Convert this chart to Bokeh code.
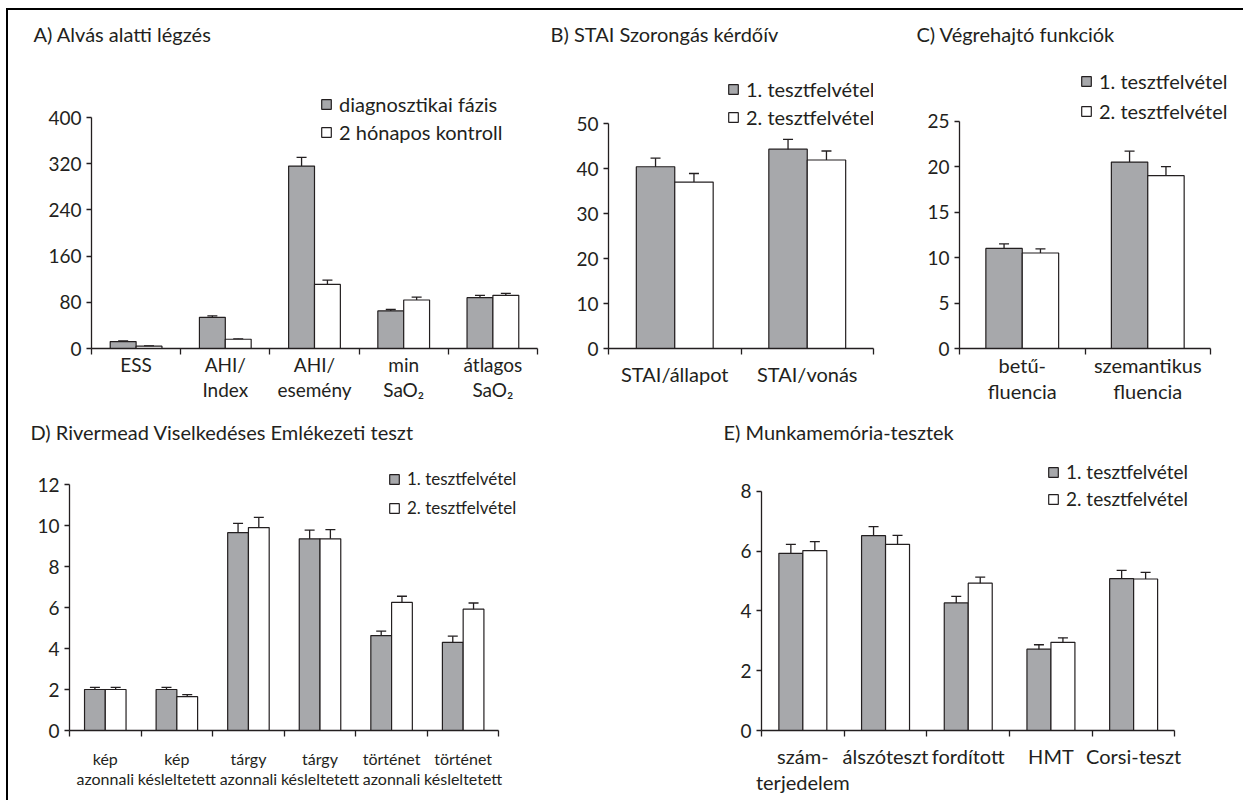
import numpy as np
from bokeh.plotting import figure
from bokeh.models import (ColumnDataSource, FixedTicker, Whisker, TeeHead,
                          Legend, LegendItem, Range1d)
from bokeh.layouts import row, column
from bokeh.embed import file_html
from bokeh.resources import INLINE

FONT = "Lato"
GRAY = "#a7a8ab"
INK = "#231f20"

# ---------------- data ----------------
series_a = ["diagnosztikai fázis", "2 hónapos kontroll"]
series_t = ["1. tesztfelvétel", "2. tesztfelvétel"]

a_title = "A) Alvás alatti légzés"
a_cats = ["ESS", "AHI/\nIndex", "AHI/\nesemény", "min\nSaO₂", "átlagos\nSaO₂"]
a_v1 = [12, 54, 316, 65, 88]
a_e1 = [1, 2.5, 15, 2.5, 4]
a_v2 = [4, 16, 111, 84, 92]
a_e2 = [0.5, 0.8, 7.5, 5, 3.5]
a_yticks = [0, 80, 160, 240, 320, 400]

b_title = "B) STAI Szorongás kérdőív"
b_cats = ["STAI/állapot", "STAI/vonás"]
b_v1 = [40.4, 44.3]
b_e1 = [1.9, 2.2]
b_v2 = [37.0, 41.9]
b_e2 = [1.9, 2.0]
b_yticks = [0, 10, 20, 30, 40, 50]

c_title = "C) Végrehajtó funkciók"
c_cats = ["betű-\nfluencia", "szemantikus\nfluencia"]
c_v1 = [11.0, 20.5]
c_e1 = [0.5, 1.2]
c_v2 = [10.5, 19.0]
c_e2 = [0.45, 1.0]
c_yticks = [0, 5, 10, 15, 20, 25]

d_title = "D) Rivermead Viselkedéses Emlékezeti teszt"
d_cats = ["kép\nazonnali", "kép\nkésleltetett", "tárgy\nazonnali",
          "tárgy\nkésleltetett", "történet\nazonnali", "történet\nkésleltetett"]
d_v1 = [2.0, 2.0, 9.65, 9.35, 4.63, 4.3]
d_e1 = [0.1, 0.1, 0.45, 0.43, 0.22, 0.3]
d_v2 = [2.0, 1.65, 9.9, 9.35, 6.25, 5.92]
d_e2 = [0.1, 0.1, 0.5, 0.45, 0.3, 0.3]
d_yticks = [0, 2, 4, 6, 8, 10, 12]

e_title = "E) Munkamemória-tesztek"
e_cats = ["szám-\nterjedelem", "álszóteszt", "fordított", "HMT", "Corsi-teszt"]
e_v1 = [5.93, 6.52, 4.27, 2.72, 5.08]
e_e1 = [0.3, 0.3, 0.22, 0.15, 0.28]
e_v2 = [6.02, 6.23, 4.93, 2.95, 5.07]
e_e2 = [0.3, 0.3, 0.2, 0.15, 0.22]
e_yticks = [0, 2, 4, 6, 8]


def panel(title, cats, series, v1, e1, v2, e2, yticks, *, width, height,
          left, right, top, bottom, y_end, x_end, title_offset, legend_xy,
          cat_size="20px", cat_standoff=0, legend_size="20px",
          legend_spacing=4, title_standoff=14):
    n = len(cats)
    p = figure(width=width, height=height,
               min_border_left=left, min_border_right=right,
               min_border_top=top, min_border_bottom=bottom,
               x_range=Range1d(0, x_end), y_range=Range1d(0, y_end),
               output_backend="svg", toolbar_location=None,
               outline_line_color=None, background_fill_color="white",
               border_fill_color="white")
    p.xgrid.visible = False
    p.ygrid.visible = False

    # title
    p.title.text = title
    p.title.text_font = FONT
    p.title.text_font_size = "20px"
    p.title.text_font_style = "normal"
    p.title.text_color = INK
    p.title.align = "left"
    p.title.offset = title_offset
    p.title.standoff = title_standoff

    # x axis: ticks at category boundaries, labels at centres
    xa = p.xaxis[0]
    xa.ticker = FixedTicker(ticks=[i + 0.5 for i in range(n)],
                            minor_ticks=list(range(n + 1)))
    xa.major_label_overrides = {i + 0.5: c for i, c in enumerate(cats)}
    xa.bounds = (0, n)
    xa.major_tick_out = 0
    xa.major_tick_in = 0
    xa.minor_tick_out = 6
    xa.minor_tick_in = 0
    xa.major_label_standoff = cat_standoff
    xa.major_label_text_font = FONT
    xa.major_label_text_font_size = cat_size
    xa.major_label_text_color = INK
    xa.major_label_text_line_height = 1.1
    xa.axis_line_color = INK
    xa.axis_line_width = 1.3
    xa.minor_tick_line_color = INK
    xa.minor_tick_line_width = 1.3

    ya = p.yaxis[0]
    ya.ticker = FixedTicker(ticks=yticks, minor_ticks=[])
    ya.bounds = (0, yticks[-1])
    ya.major_tick_out = 5
    ya.major_tick_in = 0
    ya.minor_tick_out = 0
    ya.minor_tick_in = 0
    ya.major_label_standoff = 5
    ya.major_label_text_font = FONT
    ya.major_label_text_font_size = "19px"
    ya.major_label_text_color = INK
    ya.axis_line_color = INK
    ya.axis_line_width = 1.3
    ya.major_tick_line_color = INK
    ya.major_tick_line_width = 1.3

    xs = np.arange(n) + 0.5
    v1 = np.array(v1, float); e1 = np.array(e1, float)
    v2 = np.array(v2, float); e2 = np.array(e2, float)
    src = ColumnDataSource(dict(x1=xs - 0.145, x2=xs + 0.145, v1=v1, v2=v2,
                                lo1=v1 - e1, hi1=v1 + e1,
                                lo2=v2 - e2, hi2=v2 + e2))
    r1 = p.vbar(x="x1", top="v1", width=0.29, source=src, fill_color=GRAY,
                line_color=INK, line_width=1.2)
    r2 = p.vbar(x="x2", top="v2", width=0.29, source=src, fill_color="white",
                line_color=INK, line_width=1.2)
    for xcol, lo, hi in (("x1", "lo1", "hi1"), ("x2", "lo2", "hi2")):
        w = Whisker(base=xcol, lower=lo, upper=hi, source=src,
                    line_color=INK, line_width=1.3,
                    upper_head=TeeHead(size=10, line_color=INK, line_width=1.3),
                    lower_head=TeeHead(size=10, line_color=INK, line_width=1.3))
        p.add_layout(w)

    leg = Legend(items=[LegendItem(label=series[0], renderers=[r1]),
                        LegendItem(label=series[1], renderers=[r2])],
                 location=legend_xy, background_fill_alpha=0,
                 border_line_alpha=0, padding=0, margin=0,
                 spacing=legend_spacing,
                 glyph_width=12, glyph_height=12, label_height=20,
                 label_standoff=7, label_text_font=FONT,
                 label_text_font_size=legend_size, label_text_color=INK)
    p.add_layout(leg)
    return p


pa = panel(a_title, a_cats, series_a, a_v1, a_e1, a_v2, a_e2, a_yticks,
           width=532, height=400, left=83, right=3, top=42, bottom=62,
           y_end=512.6, x_end=5, title_offset=-58, legend_xy=(229, 204),
           cat_size="19px", cat_standoff=-2)
pb = panel(b_title, b_cats, series_t, b_v1, b_e1, b_v2, b_e2, b_yticks,
           width=365, height=400, left=68, right=32, top=42, bottom=58,
           y_end=65.8, x_end=2, title_offset=-58, legend_xy=(119, 219),
           cat_size="20px", cat_standoff=7)
pc = panel(c_title, c_cats, series_t, c_v1, c_e1, c_v2, c_e2, c_yticks,
           width=338, height=400, left=54, right=7, top=42, bottom=55,
           y_end=32.55, x_end=2.207, title_offset=-43, legend_xy=(121, 225),
           cat_size="20px", cat_standoff=-2, legend_spacing=6)
pd = panel(d_title, d_cats, series_t, d_v1, d_e1, d_v2, d_e2, d_yticks,
           width=712, height=390, left=61, right=160, top=40, bottom=70,
           y_end=13.66, x_end=6.86, title_offset=-39, legend_xy=(319, 212),
           cat_size="16px", cat_standoff=12, legend_size="17px",
           legend_spacing=8, title_standoff=13)
pe = panel(e_title, e_cats, series_t, e_v1, e_e1, e_v2, e_e2, e_yticks,
           width=523, height=390, left=41, right=28, top=40, bottom=70,
           y_end=9.37, x_end=5.49, title_offset=-38, legend_xy=(286, 220),
           cat_size="20px", cat_standoff=7, legend_size="19px",
           title_standoff=13)

layout = column(row(pa, pb, pc), row(pd, pe), margin=(8, 0, 0, 6),
                styles={"border-top": "2px solid #000",
                        "border-left": "2px solid #000"})

open("out.html", "w").write(file_html(layout, INLINE))
